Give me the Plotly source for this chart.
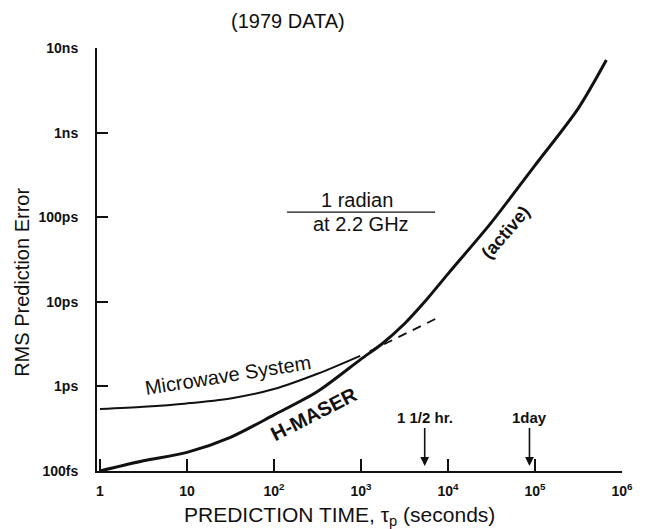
import math
import plotly.graph_objects as go

# ---- data ----
maser_t = [1, 3.16, 10, 31.6, 100, 316, 1000, 1780, 3160, 5620, 10000, 31600, 100000, 316000, 661000]
maser_err = [1.0e-13, 1.32e-13, 1.66e-13, 2.5e-13, 4.6e-13, 8.7e-13, 2.1e-12, 3.24e-12, 5.5e-12,
             1.05e-11, 2.14e-11, 8.7e-11, 4.1e-10, 1.95e-9, 7.2e-9]

mw_t = [1, 3.16, 10, 31.6, 100, 316, 980]
mw_err = [5.4e-13, 5.75e-13, 6.3e-13, 7.2e-13, 9.3e-13, 1.41e-12, 2.3e-12]

dash_t = [1260, 7600]
dash_err = [2.6e-12, 6.46e-12]

x_tickvals = [1, 10, 100, 1e3, 1e4, 1e5, 1e6]
x_ticktext = ["1", "10", "10<sup>2</sup>", "10<sup>3</sup>", "10<sup>4</sup>", "10<sup>5</sup>", "10<sup>6</sup>"]
y_tickvals = [1e-13, 1e-12, 1e-11, 1e-10, 1e-9, 1e-8]
y_ticktext = ["100fs", "1ps", "10ps", "100ps", "1ns", "10ns"]

mark_times = [5400, 86400]
mark_labels = ["1 1/2 hr.", "1day"]

FONT = "Liberation Sans, Arial, Helvetica, sans-serif"
INK = "#111111"

fig = go.Figure()
fig.add_trace(go.Scatter(x=mw_t, y=mw_err, mode="lines",
                         line=dict(color=INK, width=2, shape="spline", smoothing=0.8),
                         showlegend=False, hoverinfo="skip"))
fig.add_trace(go.Scatter(x=dash_t, y=dash_err, mode="lines", line=dict(color=INK, width=1.8, dash="9px,7px"),
                         showlegend=False, hoverinfo="skip"))
fig.add_trace(go.Scatter(x=maser_t, y=maser_err, mode="lines",
                         line=dict(color=INK, width=3, shape="spline", smoothing=0.8),
                         showlegend=False, hoverinfo="skip"))

ann = []
# arrows for 1 1/2 hr and 1 day
for t, lab in zip(mark_times, mark_labels):
    ann.append(dict(x=math.log10(t), xref="x", y=0.012, yref="paper", text=lab,
                    showarrow=True, arrowhead=2, arrowsize=1.1, arrowwidth=1.6, arrowcolor=INK,
                    ax=0, ay=-48, standoff=0,
                    font=dict(family=FONT, size=15, color=INK, weight="bold")))

txt = dict(xref="paper", yref="paper", showarrow=False, xanchor="center", yanchor="middle")
ann += [
    dict(x=0.364, y=1.064, text="(1979 DATA)", font=dict(family=FONT, size=20, color=INK), **txt),
    dict(x=0.495, y=0.641, text="1 radian", font=dict(family=FONT, size=20, color=INK), **txt),
    dict(x=0.503, y=0.584, text="at 2.2 GHz", font=dict(family=FONT, size=20, color=INK), **txt),
    dict(x=0.2495, y=0.227, text="Microwave System", textangle=-9,
         font=dict(family=FONT, size=20, color=INK), **txt),
    dict(x=0.413, y=0.135, text="H-MASER", textangle=-27,
         font=dict(family=FONT, size=20, color=INK, weight="bold"), **txt),
    dict(x=0.779, y=0.565, text="(active)", textangle=-49,
         font=dict(family=FONT, size=18, color=INK, weight="bold"), **txt),
    dict(x=0.461, y=-0.106, text="PREDICTION TIME, \u03c4<sub>p</sub> (seconds)",
         font=dict(family=FONT, size=21, color=INK), **txt),
    dict(x=-0.143, y=0.447, text="RMS Prediction Error", textangle=-90,
         font=dict(family=FONT, size=20, color=INK), **txt),
]

# the page body adds an 8px margin, so the margins are shifted by 8px
fig.update_layout(
    width=654, height=529,
    margin=dict(l=89, r=40, t=40, b=66),
    paper_bgcolor="white", plot_bgcolor="white",
    annotations=ann,
    shapes=[dict(type="line", xref="paper", yref="paper", x0=0.362, x1=0.644, y0=0.612, y1=0.612,
                 line=dict(color=INK, width=1.3))],
)
fig.update_xaxes(type="log", range=[-0.034, 6.0], tickvals=x_tickvals, ticktext=x_ticktext,
                 ticks="inside", ticklen=12, tickwidth=1.6, tickcolor=INK,
                 showline=True, linecolor=INK, linewidth=2, showgrid=False, zeroline=False,
                 ticklabelstandoff=6,
                 tickfont=dict(family=FONT, size=14, color=INK, weight="bold"))
fig.update_yaxes(type="log", range=[-13, -8], tickvals=y_tickvals, ticktext=y_ticktext,
                 ticks="inside", ticklen=11, tickwidth=1.6, tickcolor=INK,
                 showline=True, linecolor=INK, linewidth=2, showgrid=False, zeroline=False,
                 ticklabelstandoff=14,
                 tickfont=dict(family=FONT, size=14, color=INK, weight="bold"))

fig.write_html("out.html")
